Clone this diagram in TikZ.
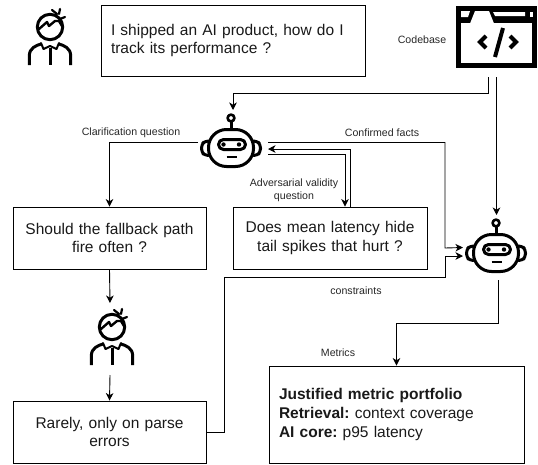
\documentclass[tikz,border=0pt]{standalone}
\usepackage{fontspec}
\setmainfont{Liberation Sans}
\usetikzlibrary{arrows.meta,positioning}
\tikzset{
  x=1pt,y=-1pt,
  txtbox/.style={draw=black,line width=0.9pt,inner sep=0pt,align=center,font=\fontsize{15.5}{18.7}\selectfont\frenchspacing,text=black!90},
  lbl/.style={inner sep=0pt,align=center,font=\fontsize{10.6}{13}\selectfont\frenchspacing,text=black!85},
  link/.style={draw=black,line width=0.9pt,-{Stealth[length=7.5pt,width=7.5pt,inset=2.2pt]}},
  holder/.style={inner sep=0pt,outer sep=0pt},
  ink/.style={draw=black,line width=3pt,line cap=round,line join=round},
  robot/.pic={
    \draw[ink,line cap=butt] (-2,-21) -- (-2,-13);
    \draw[ink,line width=2.6pt] (-2,-24.5) circle (3.4);
    \draw[ink,rounded corners=18pt] (-24.5,-13) rectangle (20.5,24);
    \draw[ink,rounded corners=3.5pt] (-24.5,-1.5) -- (-28,-1.5) -- (-31.5,2) -- (-31.5,9.5) -- (-28,13) -- (-24.5,13);
    \draw[ink,rounded corners=3.5pt] (20.5,-1.5) -- (24,-1.5) -- (27.5,2) -- (27.5,9.5) -- (24,13) -- (20.5,13);
    \draw[ink,rounded corners=5pt] (-14.5,-3) rectangle (12.5,7);
    \fill (-9.5,2) circle (2.2);
    \fill (6,2) circle (2.2);
    \draw[ink,line width=2.4pt,line cap=butt] (-6.5,14.7) -- (3.5,14.7);
  },
  person/.pic={
    \draw[ink] (0,0) circle (12.7);
    \draw[ink,line width=2.4pt] (-11,2) -- (-3,-5) -- (-1,-1) -- (5,-6) -- (9,-6) -- (12,-1);
    \draw[ink,line width=2.2pt] (2,-17) -- (7,-13) (10,-18) -- (9,-13) (15,-10) -- (10,-8);
    \draw[ink,line cap=butt] (-20.7,38) -- (-20.7,29) .. controls (-20.7,21) and (-14,18.5) .. (-9,17);
    \draw[ink,line cap=butt] (20.7,38) -- (20.7,29) .. controls (20.7,21) and (14,18.5) .. (9,17);
    \draw[ink,line cap=butt] (0,21) -- (0,38);
    \draw[ink,line width=2pt] (-9,16) -- (-6.5,22) -- (0,19) -- (6.5,22) -- (9,16);
  },
}
\begin{document}
\begin{tikzpicture}
\useasboundingbox (0,0) rectangle (538,464);

% holders for icons
\node[holder,minimum width=60pt,minimum height=72pt] (personA) at (48,37) {};
\node[holder,minimum width=50pt,minimum height=72pt] (personB) at (110,339) {};
\node[holder,minimum width=70pt,minimum height=65pt] (robotA) at (233,142.5) {};
\node[holder,minimum width=70pt,minimum height=65pt] (robotB) at (498,247.5) {};
\node[holder,minimum width=81pt,minimum height=72pt] (code) at (496.5,41) {};

% boxes
\node[txtbox,minimum width=264pt,minimum height=71pt,text width=244pt,align=left] (ask) at (233,40.5) {I shipped an AI product, how do I\\track its performance ?};
\node[txtbox,minimum width=193pt,minimum height=62pt,text width=190pt] (should) at (109.5,238) {Should the fallback path\\fire often ?};
\node[txtbox,minimum width=194pt,minimum height=62pt,text width=190pt] (does) at (330,238) {Does mean latency hide\\tail spikes that hurt ?};
\node[txtbox,minimum width=193pt,minimum height=62pt,text width=190pt] (rarely) at (109.5,432) {Rarely, only on parse\\errors};
\node[txtbox,minimum width=255pt,minimum height=97pt,text width=235pt,align=left] (port) at (396.5,414.5) {\textbf{Justified metric portfolio}\\\textbf{Retrieval:} context coverage\\\textbf{AI core:} p95 latency};

% icons
\path (personA.center) pic[xshift=2pt,yshift=10pt] {person};
\path (personB.center) pic[xshift=2pt,yshift=12pt] {person};
\path (robotA.center) pic {robot};
\path (robotB.center) pic {robot};

% code icon
\fill[black] (456,6) rectangle (537,68);
\fill[white] (461,23) rectangle (532,63);
\fill[white] (461,11) -- (470,11) -- (468,17) -- (461,17) -- cycle;
\fill[white] (475,11) -- (489,11) -- (494,23.5) -- (470,23.5) -- cycle;
\fill[white] (493,12) -- (525,12) -- (525,16) -- (495,16) -- cycle;
\fill[white] (530,11.5) rectangle (533,16.5);
\draw[black,line width=4pt,line join=miter] (486,36) -- (480,42) -- (486,48);
\draw[black,line width=4pt,line join=miter] (510,36) -- (516,42) -- (510,48);
\draw[black,line width=4pt] (503,28) -- (495,57);

% connectors
\draw[link] ([xshift=-8pt]code.south) |- (233,93) -- (robotA.north);
\draw[link] (code.south) -- (code.south |- robotB.north);
\draw[link] (robotA.west) -| (should.north);
\draw[link] (robotA.east) -- (445,142.5) -- (445,248) -- (robotB.west);
\draw[link] ([xshift=20pt]does.north) -- (350,149) -- ([yshift=-6.5pt]robotA.east);
\draw[link] ([yshift=-12pt]robotA.east) -- (345,154.5) -- ([xshift=15pt]does.north);
\draw[link] (should.south) -- (personB.north);
\draw[link] (personB.south) -- (rarely.north);
\draw[link] (rarely.east) -- (224.5,432) -- (224.5,277.5) -- (445,277.5) -- (445,256) -- ([yshift=-8.5pt]robotB.west);
\draw[link] (robotB.south) |- (396.5,323) -- (port.north);

% labels
\node[lbl] (l1) at (131,132.5) {Clarification question};
\node[lbl] (l2) at (382,132.5) {Confirmed facts};
\node[lbl] (l3) at (422,39.5) {Codebase};
\node[lbl] (l4) at (294,190.5) {Adversarial validity\\question};
\node[lbl] (l5) at (356,290.5) {constraints};
\node[lbl] (l6) at (338,352.5) {Metrics};
\end{tikzpicture}
\end{document}
